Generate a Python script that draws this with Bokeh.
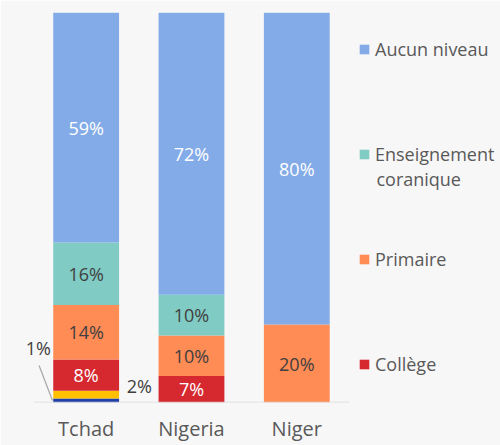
from bokeh.plotting import figure
from bokeh.models import ColumnDataSource, Range1d, Legend, LegendItem, FixedTicker
from bokeh.core.properties import value
from bokeh.embed import file_html
from bokeh.resources import INLINE

countries = ["Tchad", "Nigeria", "Niger"]
superieur = [1, 0, 0]
lycee = [2, 0, 0]
college = [8, 6.8, 0]
primaire = [14, 10.4, 20]
coranique = [16, 10.4, 0]
aucun = [59, 72.4, 80]

series = ["Supérieur", "Lycée", "Collège", "Primaire", "Enseignement coranique", "Aucun niveau"]
values = [superieur, lycee, college, primaire, coranique, aucun]
colors = ["#1f3fa8", "#ffc000", "#d5282f", "#ff8b55", "#80cbc4", "#83abe8"]
label_colors = ["#ffffff", "#404040", "#ffffff", "#404040", "#404040", "#ffffff"]
legend_series = ["Aucun niveau", "Enseignement coranique", "Primaire", "Collège"]
legend_line1 = ["Aucun niveau", "Enseignement", "Primaire", "Collège"]
legend_line2 = "coranique"

FONT = "Open Sans"
BG = "#f7f7f7"
DARK = "#404040"
GREY = "#595959"

xs = [i + 0.5 for i in range(len(countries))]
data = {"x": xs, "country": countries}
for name, vals in zip(series, values):
    data[name] = vals
src = ColumnDataSource(data)

p = figure(x_range=Range1d(-0.1804, 4.434), y_range=Range1d(0, 100),
           width=500, height=445, output_backend="svg", toolbar_location=None,
           min_border_left=14, min_border_top=12, min_border_bottom=43, min_border_right=0)
p.background_fill_color = BG
p.border_fill_color = BG
p.outline_line_color = None
p.grid.visible = False
p.yaxis.visible = False

renderers = p.vbar_stack(series, x="x", width=0.625, color=colors, source=src, line_color=None)

# baseline (category axis line)
p.segment(x0=[0], y0=[0], x1=[len(countries)], y1=[0], line_color="#d9d9d9", line_width=1.5)

# data labels
bottoms = [0, 0, 0]
lx, ly, lt, lc = [], [], [], []
for name, vals, tc in zip(series, values, label_colors):
    for i, v in enumerate(vals):
        if v >= 5:
            lx.append(xs[i])
            ly.append(bottoms[i] + v / 2)
            lt.append(f"{round(v)}%")
            lc.append(tc)
        bottoms[i] += v
lsrc = ColumnDataSource(dict(x=lx, y=ly, text=lt, color=lc))
p.text(x="x", y="y", text="text", text_color="color", text_align="center", text_baseline="middle",
       text_font=value(FONT), text_font_size="18px", source=lsrc)

# small outside labels (Tchad)
t0 = xs[0]
p.segment(x0=[t0 - 0.447], y0=[9.5], x1=[t0 - 0.32], y1=[superieur[0] / 2],
          line_color="#a6a6a6", line_width=1.2)
p.text(x=[t0 - 0.455], y=[14.1], text=[f"{superieur[0]}%"], text_color=DARK,
       text_align="center", text_baseline="middle", text_font=value(FONT), text_font_size="18px")
p.text(x=[t0 + 0.385], y=[superieur[0] + lycee[0] / 2 + 2.2], text=[f"{lycee[0]}%"], text_color=DARK,
       text_align="left", text_baseline="middle", text_font=value(FONT), text_font_size="18px")

ax = p.xaxis[0]
ax.ticker = FixedTicker(ticks=xs)
ax.major_label_overrides = {x: c for x, c in zip(xs, countries)}
ax.axis_line_color = None
ax.major_tick_line_color = None
ax.minor_tick_line_color = None
ax.major_tick_out = 0
ax.major_tick_in = 0
ax.major_label_standoff = 12
ax.major_label_text_font = FONT
ax.major_label_text_font_size = "20px"
ax.major_label_text_color = GREY

rmap = dict(zip(series, renderers))
items = [LegendItem(label=lbl, renderers=[rmap[s]]) for lbl, s in zip(legend_line1, legend_series)]
legend = Legend(items=items, location=(344, 25), orientation="vertical",
                border_line_color=None, background_fill_alpha=0, margin=0, padding=0,
                glyph_width=12, glyph_height=12, label_standoff=5, label_height=26, spacing=79,
                label_text_font=FONT, label_text_font_size="18px", label_text_color=GREY)
p.add_layout(legend)

p.text(x=[3.256], y=[57.4], text=[legend_line2], text_color=GREY, text_align="left",
       text_baseline="middle", text_font=value(FONT), text_font_size="18px")

open("out.html", "w").write(file_html(p, INLINE))
